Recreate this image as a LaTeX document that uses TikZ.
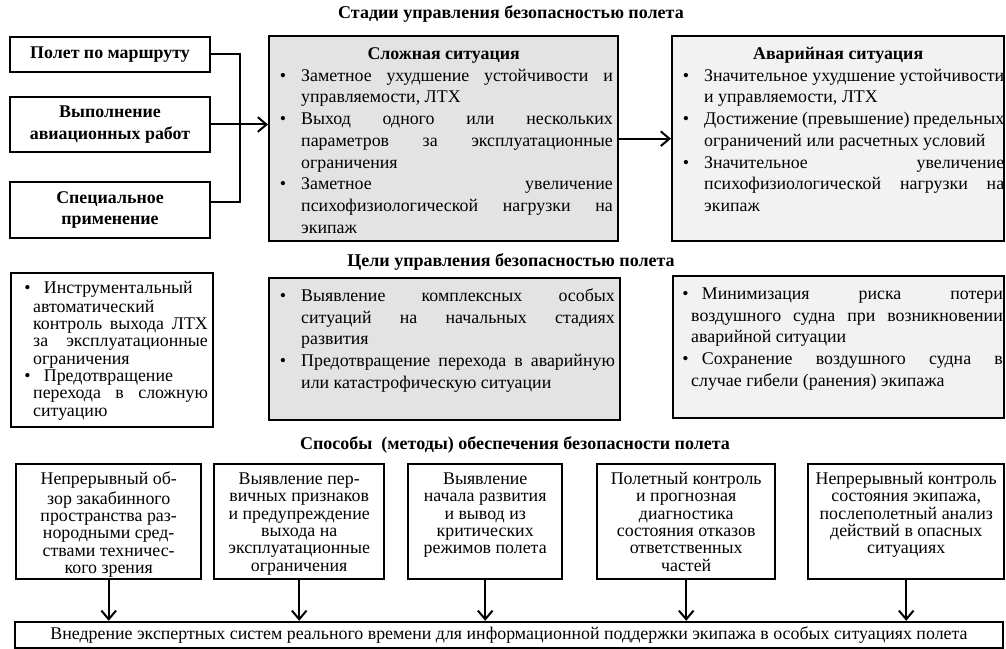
\documentclass[tikz,border=0pt]{standalone}
\usepackage{fontspec}
\setmainfont{Liberation Serif}
\usetikzlibrary{arrows.meta}
\hyphenpenalty=10000
\definecolor{hardfill}{gray}{0.89}
\definecolor{emfill}{gray}{0.95}
\newcommand\bul{\par\noindent\hangindent=20pt\hangafter=1\hbox to 20pt{\hskip4pt\textbullet\hss}\strut\ignorespaces}
\newcommand\sbul{\par\noindent\llap{\textbullet\hskip2pt}\hskip8pt\strut\ignorespaces}
\tikzset{frame/.style={draw,line width=1.8pt,inner xsep=4pt,inner ysep=6pt,anchor=north west},
  plain/.style={draw,line width=1.8pt,minimum width=150pt,align=center,font=\fontsize{13.4}{16.3}\selectfont\bfseries},
  title/.style={font=\fontsize{13.5}{16.3}\selectfont\bfseries},
  link/.style={line width=1.5pt},
  tight/.style={font=\fontsize{13.4}{13}\selectfont}}

\begin{document}
\begin{tikzpicture}[x=0.75pt,y=-0.75pt,>={Straight Barb[length=6.5pt,width=11pt]},font=\fontsize{13.4}{16.3}\selectfont]
\useasboundingbox (0,0) rectangle (1006,649);
% stages
\node[title] (t1) at (511,14) {Стадии управления безопасностью полета};
\node[plain,minimum height=26.25pt] (flt) at (110,54.5) {Полет по маршруту};
\node[plain,minimum height=41.25pt] (work) at (110,124.5) {Выполнение\\авиационных работ};
\node[plain,minimum height=42pt] (spec) at (110,210) {Специальное\\применение};
\node[frame,fill=hardfill] (hard) at (268,35) {\parbox[t][141.75pt][t]{253.75pt}{{\centering\bfseries\strut Сложная ситуация\par}
  \bul Заметное ухудшение устойчивости и\linebreak управляемости, ЛТХ
  \bul Выход одного или нескольких\linebreak параметров за эксплуатационные\linebreak ограничения
  \bul Заметное увеличение\linebreak психофизиологической нагрузки на\linebreak экипаж}};
\node[frame,fill=emfill] (emerg) at (671,35) {\parbox[t][141.75pt][t]{241pt}{\rightskip=-4pt{\centering\bfseries\strut Аварийная ситуация\par}
  \bul Значительное ухудшение устойчивости\linebreak и управляемости, ЛТХ
  \bul Достижение (превышение) предельных\linebreak ограничений или расчетных условий
  \bul Значительное увеличение\linebreak психофизиологической нагрузки на\linebreak экипаж}};
\coordinate (j) at (240,124.5);
\draw[link] (flt.east) -| (j) |- ([yshift=6pt]spec.east);
\draw[link,->] (work.east) -- (work.east -| hard.west);
\draw[link,->] (hard.east) -- (emerg.west);
% goals
\node[title] (t2) at (511,262) {Цели управления безопасностью полета};
\node[frame,tight] (gleft) at (10,272) {\parbox[t][103.5pt][t]{143.5pt}{\leftskip=12.5pt
  \sbul Инструментальный\newline автоматический\newline контроль выхода ЛТХ\linebreak за эксплуатационные\linebreak ограничения
  \sbul Предотвращение\newline перехода в сложную\linebreak ситуацию}};
\node[frame,fill=hardfill] (gmid) at (268,277) {\parbox[t][94.5pt][t]{255.25pt}{
  \bul Выявление комплексных особых\linebreak ситуаций на начальных стадиях\linebreak развития
  \bul Предотвращение перехода в аварийную\linebreak или катастрофическую ситуации}};
\node[frame,fill=emfill] (gright) at (672,275) {\parbox[t][94.5pt][t]{240.25pt}{\leftskip=9.5pt\rightskip=-3pt
  \sbul Минимизация риска потери\linebreak воздушного судна при возникновении\linebreak аварийной ситуации
  \sbul Сохранение воздушного судна в\linebreak случае гибели (ранения) экипажа}};
% methods
\node[title] (t3) at (515,445) {Способы\ \ (методы) обеспечения безопасности полета};
\node[frame,tight] (m1) at (15,463) {\parbox[t][74.25pt][t]{130.75pt}{\centering\strut Непрерывный об-\\зор закабинного\\пространства раз-\\нородными сред-\\ствами техничес-\\кого зрения}};
\node[frame,tight] (m2) at (213,463) {\parbox[t][74.25pt][t]{119.5pt}{\centering\strut Выявление пер-\\вичных признаков\\и предупреждение\\выхода на\\эксплуатационные\\ограничения}};
\node[frame,tight] (m3) at (407,463) {\parbox[t][74.25pt][t]{107.5pt}{\centering\strut Выявление\\начала развития\\и вывод из\\критических\\режимов полета}};
\node[frame,tight] (m4) at (596,463) {\parbox[t][74.25pt][t]{125.5pt}{\centering\strut Полетный контроль\\и прогнозная\\диагностика\\состояния отказов\\ответственных\\частей}};
\node[frame,tight] (m5) at (807,463) {\parbox[t][74.25pt][t]{139pt}{\centering\strut Непрерывный контроль\\состояния экипажа,\\послеполетный анализ\\действий в опасных\\ситуациях}};
\node[draw,line width=1.8pt,minimum width=741pt,minimum height=19.5pt,inner sep=0pt] (exp) at (509,635) {Внедрение экспертных систем реального времени для информационной поддержки экипажа в особых ситуациях полета};
\draw[link,->] (m1.south) -- (m1.south |- exp.north); \draw[link,->] (m2.south) -- (m2.south |- exp.north);
\draw[link,->] (m3.south) -- (m3.south |- exp.north); \draw[link,->] (m4.south) -- (m4.south |- exp.north);
\draw[link,->] (m5.south) -- (m5.south |- exp.north);
\end{tikzpicture}
\end{document}
